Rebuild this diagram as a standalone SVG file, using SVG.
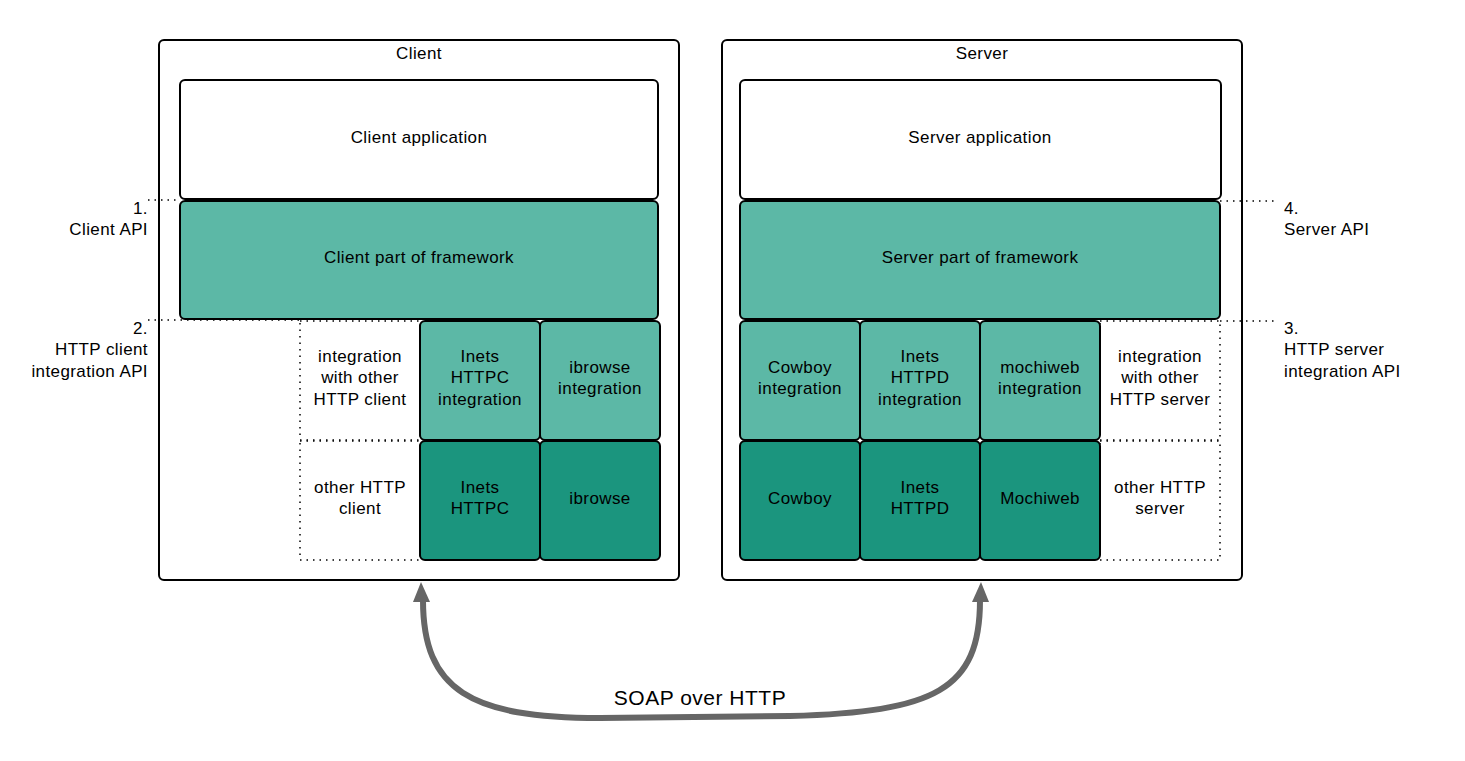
<svg xmlns="http://www.w3.org/2000/svg" width="1465" height="761" viewBox="0 0 1465 761">
<style>
.box{stroke:#000;stroke-width:2;}
.w{fill:#fff;}
.l{fill:#5cb8a6;}
.d{fill:#1b957e;}
.dot{fill:none;stroke:#000;stroke-width:1.5;stroke-dasharray:1.5 5;}
text{font-family:"Liberation Sans",Arial,sans-serif;font-size:17px;letter-spacing:0.4px;fill:#000;}
.c{text-anchor:middle;}
.r{text-anchor:end;}
</style>
<rect width="1465" height="761" fill="#fff"/>

<g id="client">
<rect class="box w" x="159" y="40" width="520" height="540" rx="5"/>
<text class="c" x="419" y="59">Client</text>
</g>
<g id="server">
<rect class="box w" x="722" y="40" width="520" height="540" rx="5"/>
<text class="c" x="982" y="59">Server</text>
</g>

<g id="labels">
<path class="dot" d="M148 200 H180 M148 320 H300"/>
<path class="dot" d="M1220 201 H1274 M1220 321 H1276"/>
<text class="r" x="148" y="214">1.</text>
<text class="r" x="148" y="235">Client API</text>
<text class="r" x="148" y="334">2.</text>
<text class="r" x="148" y="355">HTTP client</text>
<text class="r" x="148" y="377">integration API</text>
<text x="1284" y="214">4.</text>
<text x="1284" y="235">Server API</text>
<text x="1284" y="334">3.</text>
<text x="1284" y="355">HTTP server</text>
<text x="1284" y="377">integration API</text>
</g>

<g id="client-app">
<rect class="box w" x="180" y="80" width="478" height="119" rx="5"/>
<text class="c" x="419" y="143">Client application</text>
</g>
<g id="client-fw">
<rect class="box l" x="180" y="201" width="478" height="118" rx="5"/>
<text class="c" x="419" y="263">Client part of framework</text>
</g>
<g id="client-other-int">
<rect class="dot" x="300" y="321" width="120" height="119"/>
<text class="c" x="360" y="362">integration</text>
<text class="c" x="360" y="383">with other</text>
<text class="c" x="360" y="405">HTTP client</text>
</g>
<g id="inets-httpc-int">
<rect class="box l" x="420" y="321" width="120" height="119" rx="5"/>
<text class="c" x="480" y="362">Inets</text>
<text class="c" x="480" y="383">HTTPC</text>
<text class="c" x="480" y="405">integration</text>
</g>
<g id="ibrowse-int">
<rect class="box l" x="540" y="321" width="120" height="119" rx="5"/>
<text class="c" x="600" y="373">ibrowse</text>
<text class="c" x="600" y="394">integration</text>
</g>
<g id="client-other">
<rect class="dot" x="300" y="441" width="120" height="119"/>
<text class="c" x="360" y="493">other HTTP</text>
<text class="c" x="360" y="514">client</text>
</g>
<g id="inets-httpc">
<rect class="box d" x="420" y="441" width="120" height="119" rx="5"/>
<text class="c" x="480" y="493">Inets</text>
<text class="c" x="480" y="514">HTTPC</text>
</g>
<g id="ibrowse">
<rect class="box d" x="540" y="441" width="120" height="119" rx="5"/>
<text class="c" x="600" y="504">ibrowse</text>
</g>

<g id="server-app">
<rect class="box w" x="740" y="80" width="481" height="119" rx="5"/>
<text class="c" x="980" y="143">Server application</text>
</g>
<g id="server-fw">
<rect class="box l" x="740" y="201" width="480" height="118" rx="5"/>
<text class="c" x="980" y="263">Server part of framework</text>
</g>
<g id="cowboy-int">
<rect class="box l" x="740" y="321" width="120" height="119" rx="5"/>
<text class="c" x="800" y="373">Cowboy</text>
<text class="c" x="800" y="394">integration</text>
</g>
<g id="inets-httpd-int">
<rect class="box l" x="860" y="321" width="120" height="119" rx="5"/>
<text class="c" x="920" y="362">Inets</text>
<text class="c" x="920" y="383">HTTPD</text>
<text class="c" x="920" y="405">integration</text>
</g>
<g id="mochiweb-int">
<rect class="box l" x="980" y="321" width="120" height="119" rx="5"/>
<text class="c" x="1040" y="373">mochiweb</text>
<text class="c" x="1040" y="394">integration</text>
</g>
<g id="server-other-int">
<rect class="dot" x="1100" y="321" width="120" height="119"/>
<text class="c" x="1160" y="362">integration</text>
<text class="c" x="1160" y="383">with other</text>
<text class="c" x="1160" y="405">HTTP server</text>
</g>
<g id="cowboy">
<rect class="box d" x="740" y="441" width="120" height="119" rx="5"/>
<text class="c" x="800" y="504">Cowboy</text>
</g>
<g id="inets-httpd">
<rect class="box d" x="860" y="441" width="120" height="119" rx="5"/>
<text class="c" x="920" y="493">Inets</text>
<text class="c" x="920" y="514">HTTPD</text>
</g>
<g id="mochiweb">
<rect class="box d" x="980" y="441" width="120" height="119" rx="5"/>
<text class="c" x="1040" y="504">Mochiweb</text>
</g>
<g id="server-other">
<rect class="dot" x="1100" y="441" width="120" height="119"/>
<text class="c" x="1160" y="493">other HTTP</text>
<text class="c" x="1160" y="514">server</text>
</g>

<g id="connectors">
<path d="M423 600 C423 690 470 718 600 718 L790 716 C935 712 980 690 980 600" fill="none" stroke="#666" stroke-width="6"/>
<path d="M421 582 L413 602 L430 602 Z" fill="#666"/>
<path d="M981 582 L972 602 L989 602 Z" fill="#666"/>
<text class="c" x="700" y="705" style="font-size:21px;letter-spacing:0.5px">SOAP over HTTP</text>
</g>
</svg>
